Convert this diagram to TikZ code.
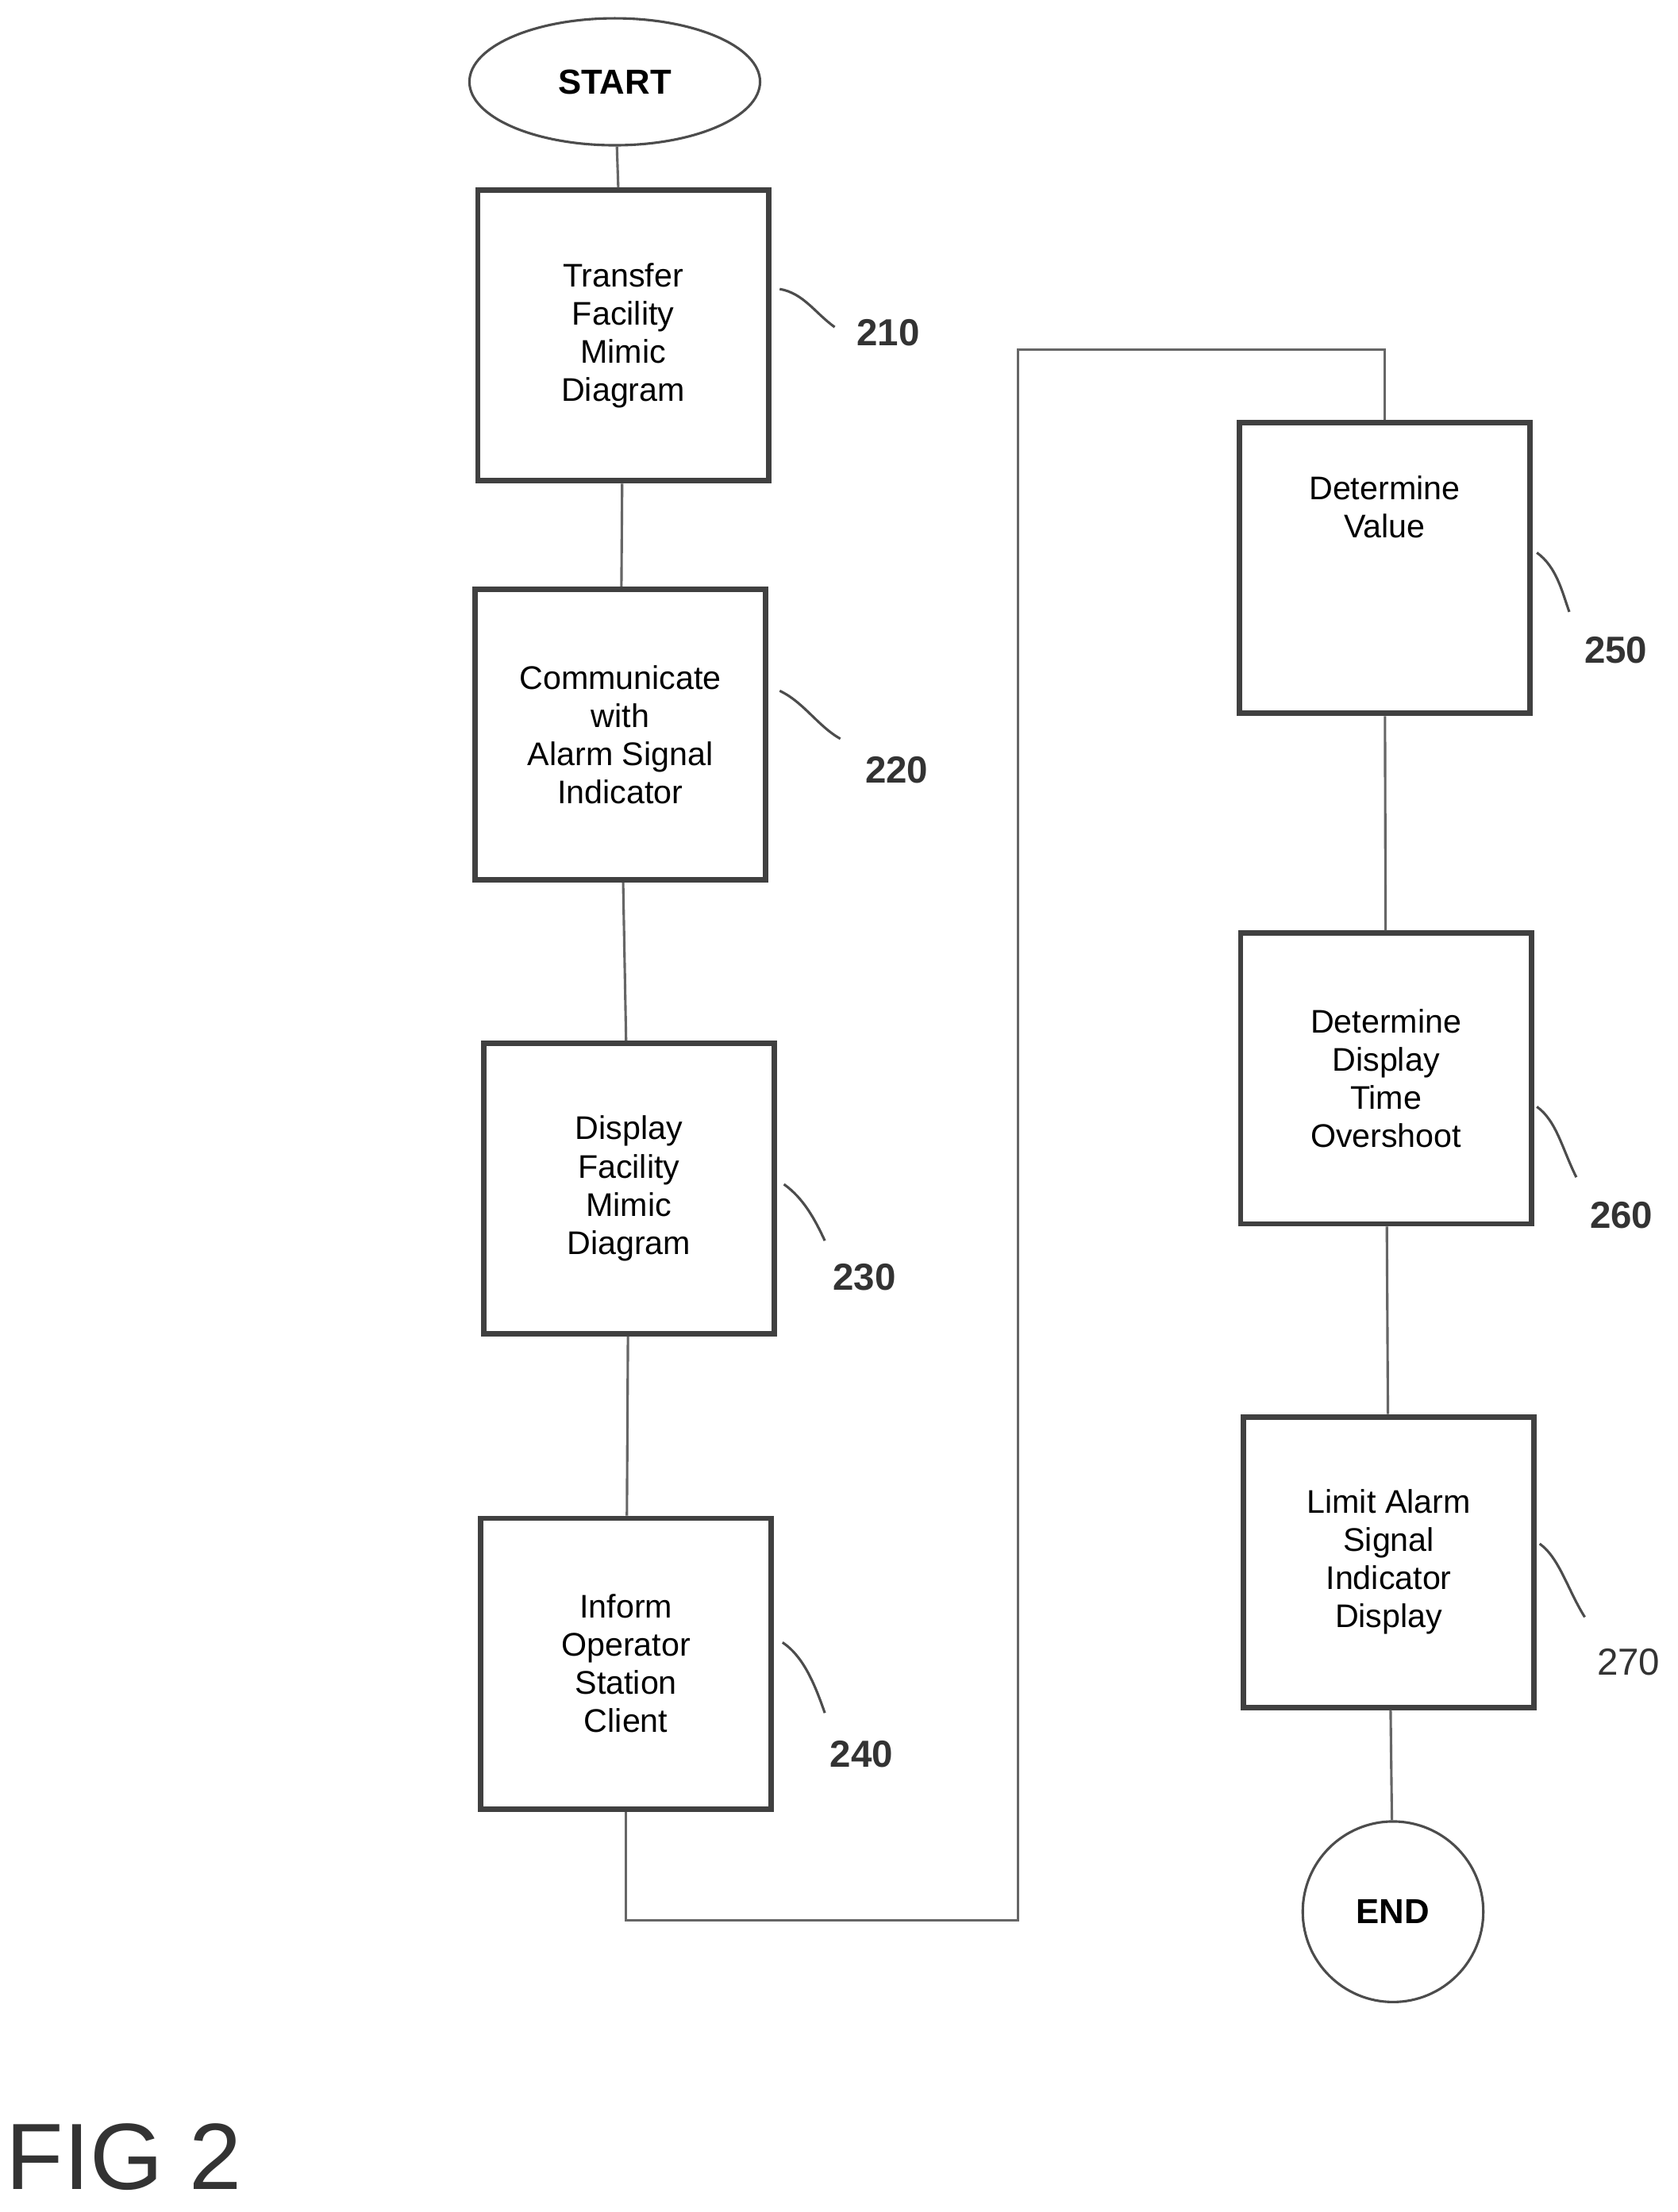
\documentclass[tikz,border=0pt]{standalone}
\usepackage{fontspec}
\setmainfont{Liberation Sans}
\usetikzlibrary{shapes.geometric}
\begin{document}
\begin{tikzpicture}[x=0.01cm,y=-0.01cm,
    box/.style={draw=black!75, line width=1.1pt, minimum width=2.06cm, minimum height=2.06cm, align=center, font=\fontsize{6.6}{7.7}\selectfont, inner sep=0pt},
    num/.style={font=\fontsize{7.6}{9}\selectfont\bfseries, text=black!80},
    lead/.style={draw=black!70, line width=0.5pt},
    link/.style={draw=black!60, line width=0.5pt}]
        \useasboundingbox (0,0) rectangle (1190,1569);
        
        %Início e fim
        \node[ellipse, draw=black!70, line width=0.5pt, minimum width=2.06cm, minimum height=0.9cm, font=\fontsize{7}{8}\selectfont\bfseries] (start) at (436, 58) {START};
        \node[circle, draw=black!70, line width=0.5pt, minimum size=1.28cm, font=\fontsize{7}{8}\selectfont\bfseries] (end) at (988, 1356) {END};
        
        %Caixas
        \node[box] (s210) at (442, 238) {Transfer\\Facility\\Mimic\\Diagram};
        \node[box] (s220) at (440, 521) {Communicate\\with\\Alarm Signal\\Indicator};
        \node[box] (s230) at (446, 843) {Display\\Facility\\Mimic\\Diagram};
        \node[box] (s240) at (444, 1180) {Inform\\Operator\\Station\\Client};
        \node[box] (s250) at (982, 403) {Determine\\Value\\[2.6em]};
        \node[box] (s260) at (983, 765) {Determine\\Display\\Time\\Overshoot};
        \node[box] (s270) at (985, 1108) {Limit Alarm\\Signal\\Indicator\\Display};
        
        %Retas
        \draw[link] (start) -- (s210);
        \draw[link] (s210) -- (s220);
        \draw[link] (s220) -- (s230);
        \draw[link] (s230) -- (s240);
        \draw[link] (s240.south) -- ++(0, 77) -| (722, 248) -| (s250.north);
        \draw[link] (s250) -- (s260);
        \draw[link] (s260) -- (s270);
        \draw[link] (s270) -- (end);
        
        %Números
        \node[num] (n210) at (630, 236) {210};
        \node[num] (n220) at (636, 546) {220};
        \node[num] (n230) at (613, 906) {230};
        \node[num] (n240) at (611, 1244) {240};
        \node[num] (n250) at (1146, 461) {250};
        \node[num] (n260) at (1150, 862) {260};
        \node[font=\fontsize{7.6}{9}\selectfont, text=black!80] (n270) at (1155, 1179) {270};
        
        %Linhas de chamada
        \draw[lead] (553, 205) .. controls (570, 208) and (578, 222) .. (592, 232);
        \draw[lead] (553, 490) .. controls (570, 498) and (580, 515) .. (596, 524);
        \draw[lead] (556, 840) .. controls (570, 850) and (578, 865) .. (585, 880);
        \draw[lead] (555, 1165) .. controls (570, 1175) and (578, 1195) .. (585, 1215);
        \draw[lead] (1090, 392) .. controls (1104, 402) and (1108, 420) .. (1113, 434);
        \draw[lead] (1090, 785) .. controls (1104, 795) and (1108, 815) .. (1118, 835);
        \draw[lead] (1092, 1095) .. controls (1106, 1105) and (1112, 1128) .. (1124, 1147);
        
        %Figura
        \node[font=\fontsize{19}{22}\selectfont, text=black!80] (fig) at (88, 1530) {FIG 2};
        
    \end{tikzpicture}
\end{document}
